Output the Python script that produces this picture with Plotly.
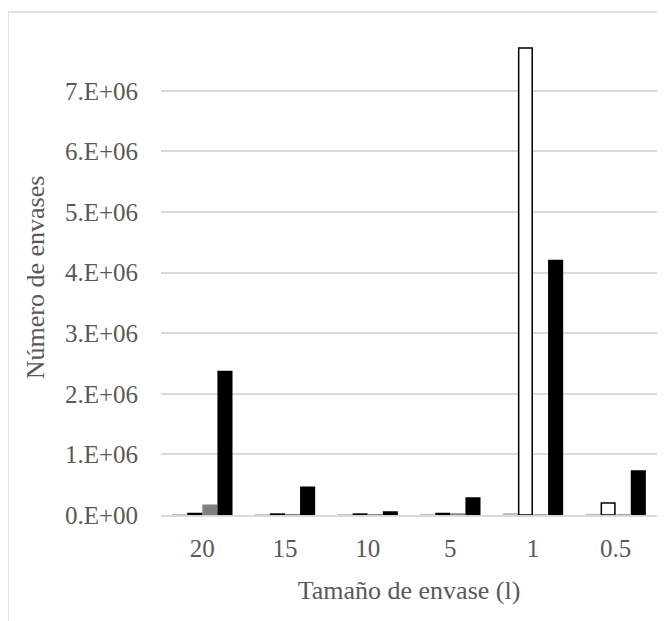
import plotly.graph_objects as go

# datos
tamanos = ["20", "15", "10", "5", "1", "0.5"]
serie_1 = [5000, 3000, 2000, 6000, 20000, 8000]
serie_2 = [25000, 15000, 15000, 25000, 7710000, 200000]
serie_3 = [160000, 5000, 3000, 15000, 0, 0]
serie_4 = [2370000, 460000, 50000, 280000, 4200000, 725000]

y_ticks = [0, 1e6, 2e6, 3e6, 4e6, 5e6, 6e6, 7e6]
y_tick_text = ["0.E+00", "1.E+06", "2.E+06", "3.E+06", "4.E+06", "5.E+06", "6.E+06", "7.E+06"]

FONT = "Liberation Serif"
GRIS = "#595959"

fig = go.Figure()

estilos = [
    ("Serie 1", serie_1, "#d9d9d9", "#bfbfbf"),
    ("Serie 2", serie_2, "white", "black"),
    ("Serie 3", serie_3, "#7f7f7f", "#7f7f7f"),
    ("Serie 4", serie_4, "black", "black"),
]
for nombre, valores, relleno, borde in estilos:
    fig.add_trace(go.Bar(
        x=tamanos, y=valores, name=nombre,
        marker=dict(color=relleno, line=dict(color=borde, width=1.5)),
    ))

# la página tiene 8 px de margen en el body
fig.update_layout(
    width=657, height=613,
    margin=dict(l=153, r=8, t=32, b=106),
    barmode="group",
    bargap=0.27,
    bargroupgap=0.1,
    showlegend=False,
    plot_bgcolor="white",
    paper_bgcolor="white",
    font=dict(family=FONT, color=GRIS, size=25),
    xaxis=dict(
        type="category",
        showline=True,
        linecolor="#d9d9d9",
        linewidth=1.5,
        showgrid=False,
        ticks="",
        tickfont=dict(family=FONT, size=25, color=GRIS),
        ticklabelstandoff=10,
        title=dict(text="Tamaño de envase (l)", font=dict(family=FONT, size=26, color=GRIS), standoff=20),
    ),
    yaxis=dict(
        range=[0, 7.84e6],
        tickvals=y_ticks,
        ticktext=y_tick_text,
        showgrid=True,
        gridcolor="#d9d9d9",
        gridwidth=1.5,
        zeroline=False,
        showline=False,
        ticks="",
        tickfont=dict(family=FONT, size=25, color=GRIS),
        ticklabelstandoff=22,
        title=dict(text="Número de envases", font=dict(family=FONT, size=26, color=GRIS), standoff=12),
    ),
    shapes=[dict(
        type="rect", xref="paper", yref="paper",
        x0=-0.3085, x1=1.2, y0=-0.4, y1=1.059,
        line=dict(color="#d9d9d9", width=1.5),
        fillcolor="rgba(0,0,0,0)",
        layer="below",
    )],
)

fig.write_html("out.html")
